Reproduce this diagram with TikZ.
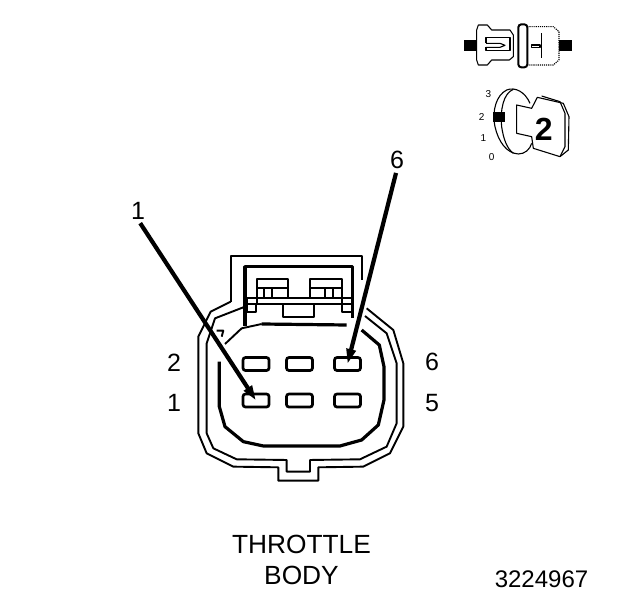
\documentclass[tikz,border=0pt]{standalone}
\usepackage{fontspec}
\setmainfont{Liberation Sans}
\usetikzlibrary{arrows.meta}

\begin{document}
\begin{tikzpicture}[x=1pt, y=-1pt,
    pinbox/.style={rectangle, draw, line width=2.7pt, rounded corners=2.5pt, minimum width=26pt, minimum height=13pt, inner sep=0pt},
    pinlabel/.style={font=\fontsize{25}{25}\selectfont, inner sep=0pt},
    dialnum/.style={font=\fontsize{10}{10}\selectfont, inner sep=0pt},
    leader/.style={line width=4.2pt, shorten <=4pt, -{Triangle[length=15pt,width=9pt]}},
    shell/.style={line width=1.9pt, line join=round},
    wall/.style={line width=3.2pt, line join=round},
    thin part/.style={line width=1.1pt, line join=round}]
    \useasboundingbox (0,0) rectangle (624,600);

    % pins
    \node (pin2) [pinbox] at (256,364) {};
    \node (pin4) [pinbox] at (299.5,364) {};
    \node (pin6) [pinbox] at (347.5,364) {};
    \node (pin1) [pinbox] at (256,400.5) {};
    \node (pin3) [pinbox] at (299.5,400.5) {};
    \node (pin5) [pinbox] at (347.5,400.5) {};

    % texts
    \node (num2) [pinlabel] at (174,363) {2};
    \node (num1) [pinlabel] at (174,403) {1};
    \node (num6) [pinlabel] at (432,362) {6};
    \node (num5) [pinlabel] at (432,403) {5};
    \node (lead1) [pinlabel] at (138,211) {1};
    \node (lead6) [pinlabel] at (397,160) {6};
    \node (title1) [pinlabel, font=\fontsize{26.3}{26}\selectfont] at (301.5,544) {THROTTLE};
    \node (title2) [pinlabel, font=\fontsize{26.3}{26}\selectfont] at (301.5,575) {BODY};
    \node (partno) [pinlabel, font=\fontsize{24}{24}\selectfont] at (541.5,579) {3224967};

    \draw [leader] (lead1.south) -- (pin1.center);
    \draw [leader] (lead6.south) -- (pin6.center);

    % connector body, zoomed coordinates
    \begin{scope}[shift={(190,240)}, x=0.3333pt, y=-0.3333pt]
        \draw [shell] (122,185) -- (122,48) -- (515,48) -- (515,120);
        \draw [wall] (165,258) -- (165,80) -- (487,80) -- (487,235);
        \draw [shell] (122,185) -- (62,215) -- (25,290) -- (25,580) -- (50,640) -- (130,680) -- (265,682) -- (265,722) -- (385,722) -- (385,682) -- (520,680) -- (600,640) -- (640,560) -- (640,370) -- (610,270) -- (530,205);
        \draw [shell] (165,200) -- (75,235) -- (50,310) -- (50,580) -- (70,625) -- (140,658) -- (290,660) -- (290,695) -- (360,695) -- (360,660) -- (510,658) -- (590,620) -- (620,550) -- (620,370) -- (590,280) -- (525,228);
        \draw [wall] (88,365) -- (88,500) -- (105,560) -- (160,605) -- (220,618) -- (450,618) -- (515,600) -- (565,555) -- (582,480) -- (582,380) -- (568,315) -- (515,270);
        \draw [wall] (215,252) -- (470,255);
        \draw [shell] (105,312) -- (155,265) -- (215,252);
        \draw [shell] (80,272) -- (100,272) -- (95,290);
        % latches
        \draw [shell] (170,175) -- (487,175);
        \draw [shell] (170,193) -- (487,193);
        \draw [shell] (170,175) -- (170,215) -- (197,215) -- (197,193);
        \draw [shell] (455,193) -- (455,217) -- (485,217);
        \draw [shell] (280,193) -- (280,230) -- (372,230) -- (372,193);
        \draw [shell] (200,190) -- (200,117) -- (295,117) -- (295,175);
        \draw [shell] (360,175) -- (360,117) -- (455,117) -- (455,190);
        \draw [shell] (200,143) -- (295,143);
        \draw [shell] (360,143) -- (455,143);
        \draw [shell] (222,143) -- (222,175);
        \draw [shell] (245,143) -- (245,175);
        \draw [shell] (405,143) -- (405,175);
        \draw [shell] (428,143) -- (428,175);
    \end{scope}

    % small views, zoomed coordinates
    \begin{scope}[shift={(450,10)}, x=0.3333pt, y=-0.3333pt]
        \fill (43,90) rectangle (80,122);
        \fill (327,90) rectangle (365,122);
        \draw [thin part] (80,60) -- (85,45) -- (112,45) -- (125,60) -- (180,60) -- (190,75) -- (190,140) -- (178,150) -- (125,150) -- (112,165) -- (85,165) -- (80,150) -- cycle;
        \draw [thin part] (108,100) -- (108,82) -- (180,82) -- (180,122) -- (108,122) -- (108,112);
        \draw [thin part] (108,100) -- (150,100) -- (165,106) -- (150,112) -- (108,112);
        \draw [line width=2pt, rounded corners=3pt] (205,43) rectangle (232,172);
        \draw [thin part, densely dotted] (232,50) -- (310,50) -- (327,65) -- (327,150) -- (310,165) -- (232,165);
        \draw [thin part] (275,70) -- (275,145);
        \draw [thin part] (245,105) rectangle (270,112);

        \draw [thin part] (240,280) .. controls (225,245) and (195,230) .. (170,240) .. controls (140,255) and (125,300) .. (135,350) .. controls (145,395) and (170,430) .. (205,432) .. controls (225,432) and (240,418) .. (245,400);
        \draw [thin part] (190,238) .. controls (160,250) and (150,300) .. (155,350) .. controls (160,385) and (170,415) .. (190,430);
        \fill (130,307) rectangle (165,335);
        \draw [thin part] (200,285) -- (245,295) -- (262,262) -- (340,280) -- (357,320) -- (355,420) -- (330,440) -- (250,415) -- (245,380) -- (200,370) -- cycle;
        \draw [thin part] (275,258) -- (330,275) -- (345,310) -- (345,410) -- (330,440);
        \node (keynum) [pinlabel, font=\fontsize{32}{32}\selectfont\bfseries] at (281,358) {2};
        \node (dial3) [dialnum] at (115,253) {3};
        \node (dial2) [dialnum] at (95,320) {2};
        \node (dial1) [dialnum] at (100,385) {1};
        \node (dial0) [dialnum] at (125,440) {0};
    \end{scope}
\end{tikzpicture}
\end{document}
